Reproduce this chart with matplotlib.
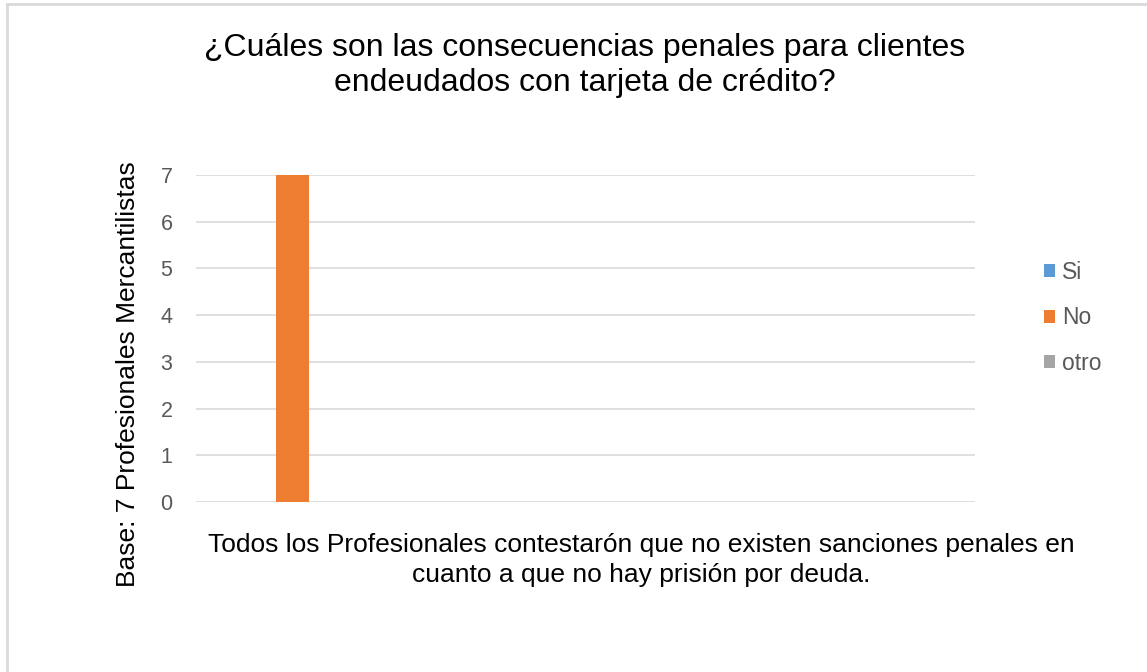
import matplotlib
matplotlib.use("Agg")
import matplotlib.pyplot as plt
from matplotlib.lines import Line2D
from matplotlib.patches import Patch

series = ["Si", "No", "otro"]
values = [0, 7, 0]
colors = ["#5B9BD5", "#ED7D31", "#A5A5A5"]
yticks = [0, 1, 2, 3, 4, 5, 6, 7]
title = "¿Cuáles son las consecuencias penales para clientes\nendeudados con tarjeta de crédito?"
xnote = "Todos los Profesionales contestarón que no existen sanciones penales en\ncuanto a que no hay prisión por deuda."
ylab = "Base: 7 Profesionales Mercantilistas"

plt.rcParams['font.family'] = ['Liberation Sans', 'DejaVu Sans']

fig = plt.figure(figsize=(11.47, 6.72), dpi=100)
ax = fig.add_axes([196/1147, 170/672, 779/1147, 327/672])

w = 1.0
offsets = [-1, 0, 1]
for s, v, c, o in zip(series, values, colors, offsets):
    ax.bar(o * w, v, width=w, color=c, label=s, zorder=3)

ax.set_xlim(-2.92, 20.68)
ax.set_ylim(0, 7)
ax.set_yticks(yticks)
ax.set_xticks([])
ax.grid(axis='y', color='#d9d9d9', linewidth=1.2, zorder=0)
for sp in ax.spines.values():
    sp.set_visible(False)
ax.tick_params(axis='y', length=0, labelsize=15.5, labelcolor='#595959', pad=17)

fig.text(585/1147, 1 - 65.5/672, title, ha='center', va='center', fontsize=23, color='black', linespacing=1.18)
fig.text(641/1147, 1 - 560/672, xnote, ha='center', va='center', fontsize=19, color='black', linespacing=1.32)
fig.text(128/1147, 1 - 374/672, ylab, ha='center', va='center', rotation=90, fontsize=19, color='black')

handles = [Patch(facecolor=c, edgecolor='none') for c in colors]
leg = fig.legend(handles, series, loc='center left', bbox_to_anchor=(1023/1147, 1 - 318/672),
                 frameon=False, fontsize=16.5, labelcolor='#595959', handlelength=0.5,
                 handleheight=0.5, handletextpad=0.3, labelspacing=0.98)

# chart border (cropped: top and left visible)
fig.add_artist(Line2D([7/1147, 7/1147], [0, 1 - 4/672], transform=fig.transFigure, color='#d9d9d9', linewidth=2))
fig.add_artist(Line2D([7/1147, 1], [1 - 4/672, 1 - 4/672], transform=fig.transFigure, color='#d9d9d9', linewidth=2))

fig.savefig("out.png", dpi=100, facecolor='white')
